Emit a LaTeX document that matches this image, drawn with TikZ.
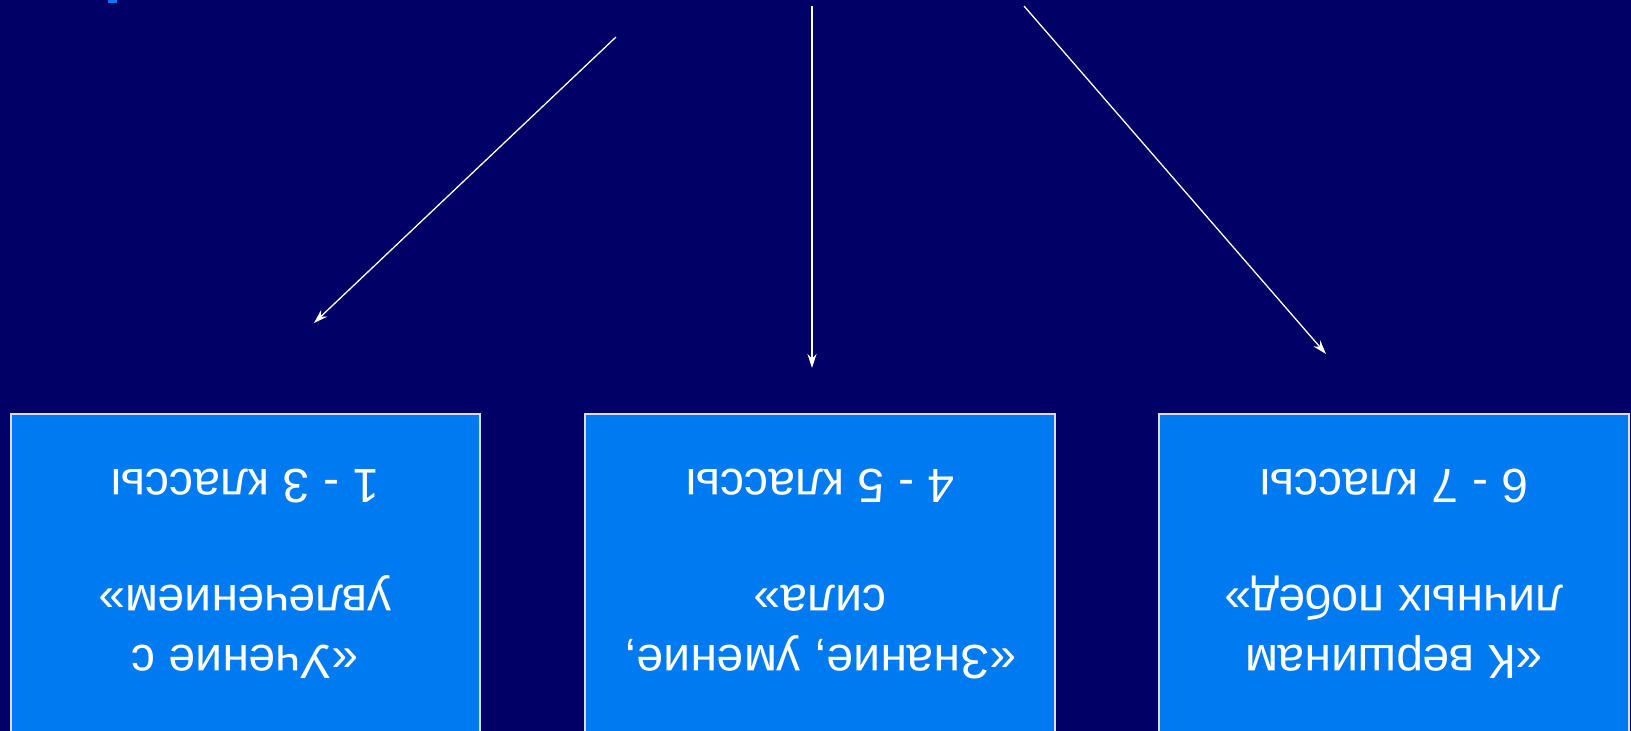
\documentclass[tikz,border=0pt]{standalone}
\usepackage{fontspec}
\setmainfont{Liberation Sans}
\usetikzlibrary{arrows.meta}
\definecolor{navy}{RGB}{0,0,102}
\definecolor{boxblue}{RGB}{0,122,240}
\definecolor{boxedge}{RGB}{220,220,245}
\tikzset{
  panel/.style={draw=boxedge, line width=1.6pt, fill=boxblue},
  label/.style={text=white, font=\fontsize{48}{58}\selectfont, rotate=180, anchor=base, inner sep=0pt},
  link/.style={draw=white, line width=1.3pt, -{Stealth[length=14pt,width=9pt]}}
}
\begin{document}
\begin{tikzpicture}[x=1pt,y=-1pt]
\fill[navy] (0,0) rectangle (1631,731);
\useasboundingbox (0,0) rectangle (1631,731);
% small cut-off mark at top left
\fill[boxblue] (108,0) rectangle (117,3);
% boxes
\begin{scope}
\clip (0,0) rectangle (1631,731);
\path[panel] (10.8,413.8) rectangle (480,745);
\path[panel] (585,413.8) rectangle (1055,745);
\path[panel] (1159,413.8) rectangle (1629,745);
\end{scope}
\coordinate (boxL) at (314,323);
\coordinate (boxM) at (812,368);
\coordinate (boxR) at (1326,354);
% left box texts
\node[label] (l1) at (245,645) {«Учение с};
\node[label] (l2) at (245,585) {увлечением»};
\node[label] (l3) at (245,469) {1 - 3 классы};
% middle box texts
\node[label] (m1) at (820,645) {«Знание, умение,};
\node[label] (m2) at (820,585) {сила»};
\node[label] (m3) at (820,469) {4 - 5 классы};
% right box texts
\node[label] (r1) at (1394,645) {«К вершинам};
\node[label] (r2) at (1394,585) {личных побед»};
\node[label] (r3) at (1394,469) {6 - 7 классы};
% arrows
\coordinate (sL) at (616,37);
\coordinate (sM) at (812,6);
\coordinate (sR) at (1024,6);
\draw[link] (sL) -- (boxL);
\draw[link] (sM) -- (boxM);
\draw[link] (sR) -- (boxR);
\end{tikzpicture}
\end{document}
